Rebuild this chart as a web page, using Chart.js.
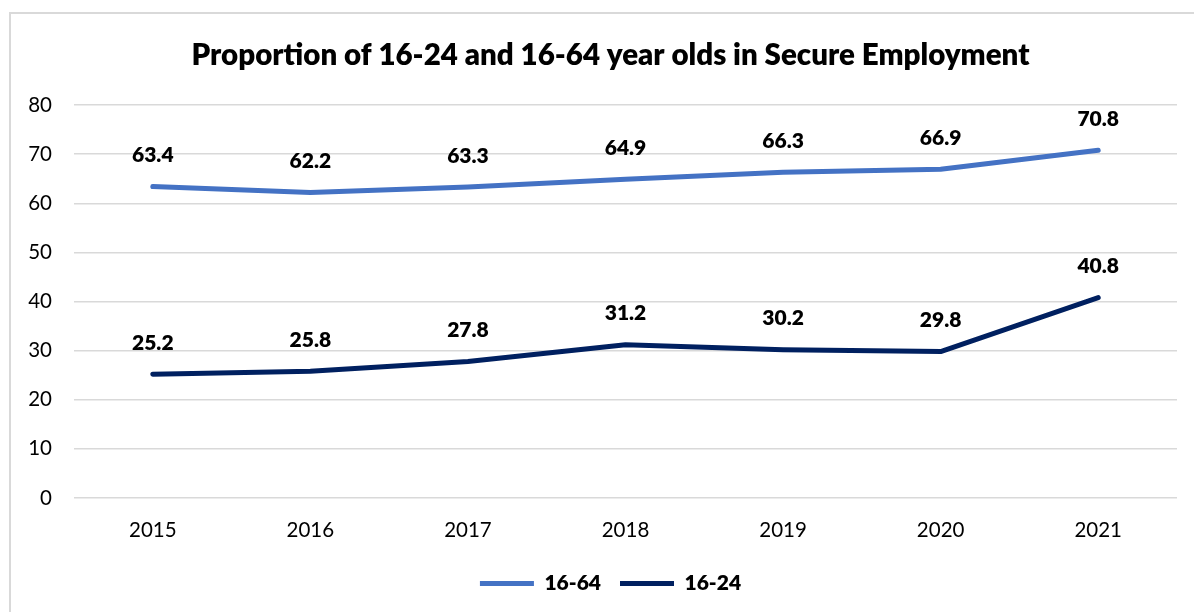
<!DOCTYPE html>
<html>
<head>
<meta charset="utf-8">
<script src="https://cdn.jsdelivr.net/npm/chart.js@4/dist/chart.umd.min.js"></script>
<style>
  html, body { margin: 0; padding: 0; background: #ffffff; }
  body { width: 1194px; height: 612px; position: relative; overflow: hidden; }
  #frame { position: absolute; left: 9px; top: 12px; width: 1300px; height: 700px; border: 2px solid #d9d9d9; box-sizing: border-box; }
  #wrap { position: absolute; left: 0; top: 0; width: 1194px; height: 612px; }
</style>
</head>
<body>
<div id="frame"></div>
<div id="wrap"><canvas id="chart" width="1194" height="612"></canvas></div>
<script>
// Years on the category axis
const years = ['2015', '2016', '2017', '2018', '2019', '2020', '2021'];
// Share in secure employment, per cent
const ages16to64 = [63.4, 62.2, 63.3, 64.9, 66.3, 66.9, 70.8];
const ages16to24 = [25.2, 25.8, 27.8, 31.2, 30.2, 29.8, 40.8];
// Value axis ticks
const yTicks = [0, 10, 20, 30, 40, 50, 60, 70, 80];

const FONT = 'Lato, "Open Sans", "Liberation Sans", sans-serif';

// Writes each point's value above it
const valueLabels = {
  id: 'valueLabels',
  afterDatasetsDraw(chart) {
    const ctx = chart.ctx;
    ctx.save();
    ctx.font = '800 21px ' + FONT;
    ctx.fillStyle = '#000000';
    ctx.textAlign = 'center';
    ctx.textBaseline = 'middle';
    chart.data.datasets.forEach((ds, i) => {
      const meta = chart.getDatasetMeta(i);
      meta.data.forEach((pt, j) => {
        ctx.fillText(ds.data[j].toFixed(1), pt.x, pt.y - 31);
      });
    });
    ctx.restore();
  }
};

// The value axis is kept narrow so the title and legend centre on the frame;
// widen its label area back to the canvas edge so the tick labels are not cut.
const widenYLabels = {
  id: 'widenYLabels',
  afterLayout(chart) {
    const y = chart.scales.y;
    y.left = 0;
    y.width = y.right;
  }
};

new Chart(document.getElementById('chart'), {
  type: 'line',
  data: {
    labels: years,
    datasets: [
      {
        label: '16-64',
        data: ages16to64,
        borderColor: '#4472c4',
        backgroundColor: '#4472c4',
        borderWidth: 5,
        borderCapStyle: 'round',
        borderJoinStyle: 'round',
        pointRadius: 0,
        tension: 0
      },
      {
        label: '16-24',
        data: ages16to24,
        borderColor: '#002060',
        backgroundColor: '#002060',
        borderWidth: 5,
        borderCapStyle: 'round',
        borderJoinStyle: 'round',
        pointRadius: 0,
        tension: 0
      }
    ]
  },
  options: {
    responsive: false,
    animation: false,
    devicePixelRatio: 1,
    layout: { padding: { left: 44, right: 17, top: 0, bottom: 8 } },
    plugins: {
      title: {
        display: true,
        text: 'Proportion of 16-24 and 16-64 year olds in Secure Employment',
        color: '#000000',
        font: { family: FONT, size: 29.5, weight: '800', lineHeight: 1.2 },
        padding: { top: 37.3, bottom: 32.3 }
      },
      legend: {
        position: 'bottom',
        labels: {
          color: '#000000',
          font: { family: FONT, size: 21, weight: '800' },
          usePointStyle: true,
          pointStyle: 'line',
          pointStyleWidth: 54,
          padding: 19
        }
      },
      tooltip: { enabled: false }
    },
    scales: {
      x: {
        offset: true,
        grid: { display: false, drawTicks: false },
        border: { display: false },
        ticks: {
          color: '#000000',
          font: { family: FONT, size: 20.5 },
          padding: 20,
          maxRotation: 0
        },
        afterFit(scale) { scale.height = 56; }
      },
      y: {
        min: 0,
        max: 80,
        afterBuildTicks(scale) { scale.ticks = yTicks.map(v => ({ value: v })); },
        grid: { color: '#d9d9d9', lineWidth: 1.5, drawTicks: false },
        border: { display: false },
        ticks: {
          color: '#000000',
          font: { family: FONT, size: 20.5 },
          padding: 22
        },
        afterFit(scale) { scale.width = 30; }
      }
    }
  },
  plugins: [valueLabels, widenYLabels]
});
</script>
</body>
</html>
